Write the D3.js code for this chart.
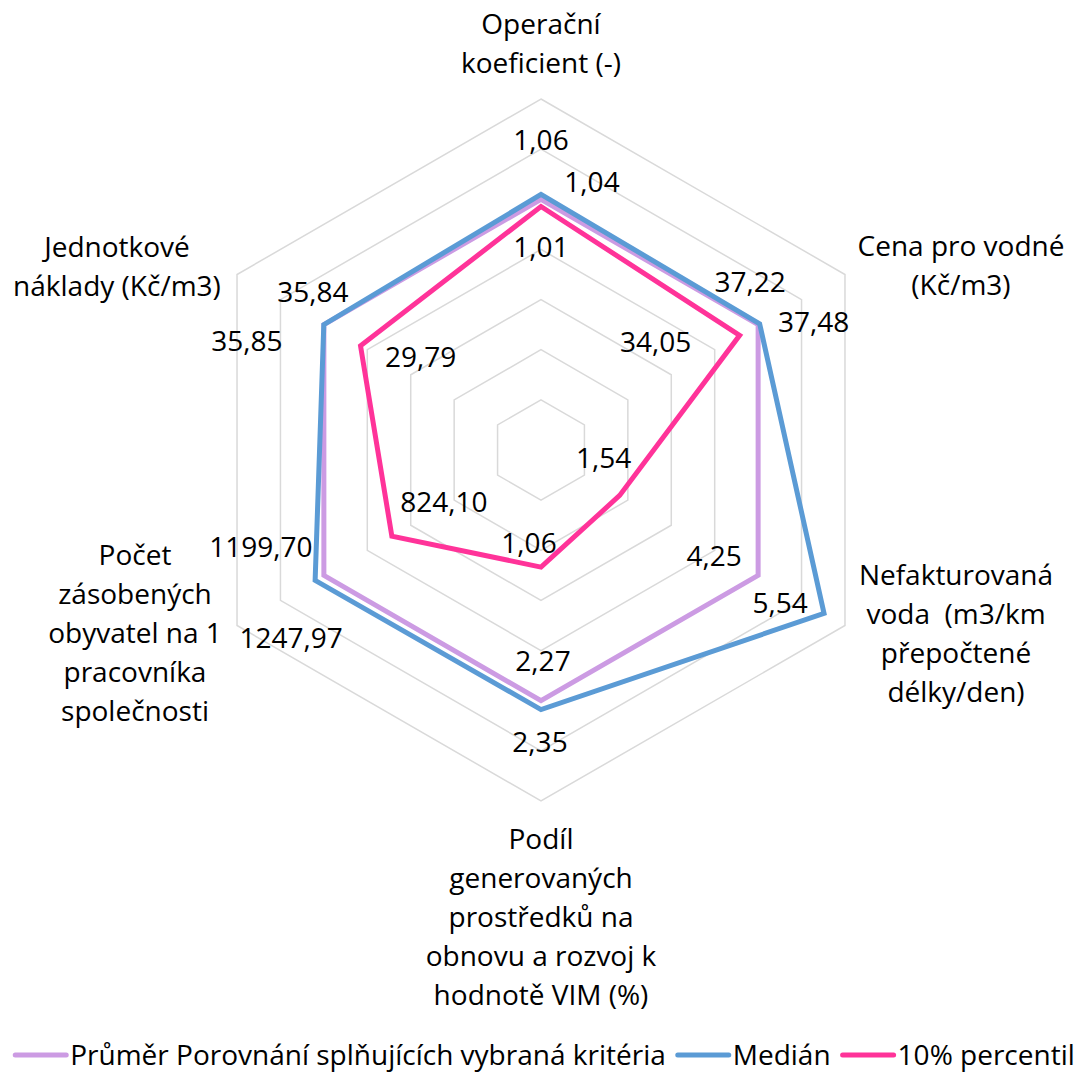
<!DOCTYPE html>
<html>
<head>
<meta charset="utf-8">
<script src="https://cdn.jsdelivr.net/npm/d3@7"></script>
<style>
  body { margin: 0; background: #fff; }
  svg { display: block; font-family: "Open Sans", sans-serif; }
</style>
</head>
<body>
<svg width="1088" height="1072"></svg>
<script>
// kategorie (osy grafu), řádky popisků
const categories = [
    ["Operační", "koeficient (-)"],
    ["Cena pro vodné", "(Kč/m3)"],
    ["Nefakturovaná", "voda  (m3/km", "přepočtené", "délky/den)"],
    ["Podíl", "generovaných", "prostředků na", "obnovu a rozvoj k", "hodnotě VIM (%)"],
    ["Počet", "zásobených", "obyvatel na 1", "pracovníka", "společnosti"],
    ["Jednotkové", "náklady (Kč/m3)"]
];

const seriesNames = ["Průměr Porovnání splňujících vybraná kritéria", "Medián", "10% percentil"];
const prumer = [1.04, 37.22, 4.25, 2.27, 1199.70, 35.84];
const median = [1.06, 37.48, 5.54, 2.35, 1247.97, 35.85];
const percentil10 = [1.01, 34.05, 1.54, 1.06, 824.10, 29.79];
const rTicks = [0.2, 0.4, 0.6, 0.8, 1.0, 1.2, 1.4];

const colors = ["#CC9BE3", "#5B9BD5", "#FF3399"];

const svg = d3.select('svg');
const cx = 541, cy = 450;
const fontSize = 28;

const r = d3.scaleLinear().domain([0, 1.4]).range([0, 351]);
const angle = d3.scalePoint().domain(d3.range(6)).range([0, 300]);

function pt(i, v) {
    const a = (angle(i) - 90) * Math.PI / 180;
    return [cx + r(v) * Math.cos(a), cy + r(v) * Math.sin(a)];
}

// mřížka
const grid = svg.append('g');
rTicks.forEach(t => {
    grid.append('polygon')
        .attr('points', d3.range(6).map(i => pt(i, t).join(',')).join(' '))
        .attr('fill', 'none')
        .attr('stroke', '#D9D9D9')
        .attr('stroke-width', 1.5);
});

// hodnoty jsou vynesené relativně k průměru
const rows = [prumer, median, percentil10];
const series = rows.map((row, s) => ({
    name: seriesNames[s],
    color: colors[s],
    raw: row,
    rel: row.map((v, i) => v / prumer[i])
}));

const line = d3.lineRadial()
    .angle((d, i) => angle(i) * Math.PI / 180)
    .radius(d => r(d))
    .curve(d3.curveLinearClosed);

const plot = svg.append('g').attr('transform', `translate(${cx},${cy})`);
plot.selectAll('path')
    .data(series)
    .enter()
    .append('path')
    .attr('d', d => line(d.rel))
    .attr('fill', 'none')
    .attr('stroke', d => d.color)
    .attr('stroke-width', 5)
    .attr('stroke-linejoin', 'miter');

// posun popisků dat od bodu [dx, dy] (účaří)
const labelOffsets = [
    [[51, -7], [-8, -33], [-44, -9], [2, -30], [-63, -18], [-11, -23]],
    [[0, -44], [54, 8], [-44, 0], [-1, 42], [-24, 68], [-77, 26]],
    [[0, 50], [-84, 17], [-16, -27], [-12, -14], [52, -24], [60, 21]]
];

const fmt = v => d3.format('.2f')(v).replace('.', ',');

const labels = svg.append('g')
    .attr('font-size', fontSize)
    .attr('fill', '#000')
    .attr('text-anchor', 'middle');

series.forEach((s, si) => {
    s.rel.forEach((v, i) => {
        const [x, y] = pt(i, v);
        const off = labelOffsets[si][i];
        labels.append('text')
            .attr('x', x + off[0])
            .attr('y', y + off[1])
            .text(fmt(s.raw[i]));
    });
});

// popisky os
const catPos = [
    [541, 34], [961, 256], [956, 585], [541, 849], [135, 565], [117, 257]
];
const cats = svg.append('g')
    .attr('font-size', fontSize)
    .attr('text-anchor', 'middle');
categories.forEach((lines, i) => {
    const t = cats.append('text')
        .attr('x', catPos[i][0])
        .attr('y', catPos[i][1]);
    lines.forEach((l, j) => {
        t.append('tspan')
            .attr('x', catPos[i][0])
            .attr('dy', j === 0 ? 0 : 39)
            .attr('xml:space', 'preserve')
            .text(l);
    });
});

// legenda
const legend = svg.append('g').attr('font-size', fontSize);
let lx = 0;
series.forEach(s => {
    const g = legend.append('g').attr('transform', `translate(${lx},0)`);
    g.append('line')
        .attr('x1', 2).attr('x2', 53)
        .attr('y1', 0).attr('y2', 0)
        .attr('stroke', s.color)
        .attr('stroke-width', 5)
        .attr('stroke-linecap', 'round');
    const t = g.append('text')
        .attr('x', 57)
        .attr('y', 10)
        .text(s.name);
    lx += 57 + t.node().getComputedTextLength() + 10;
});
const legW = lx - 10;
legend.attr('transform', `translate(${544 - legW / 2},1055)`);
</script>
</body>
</html>
